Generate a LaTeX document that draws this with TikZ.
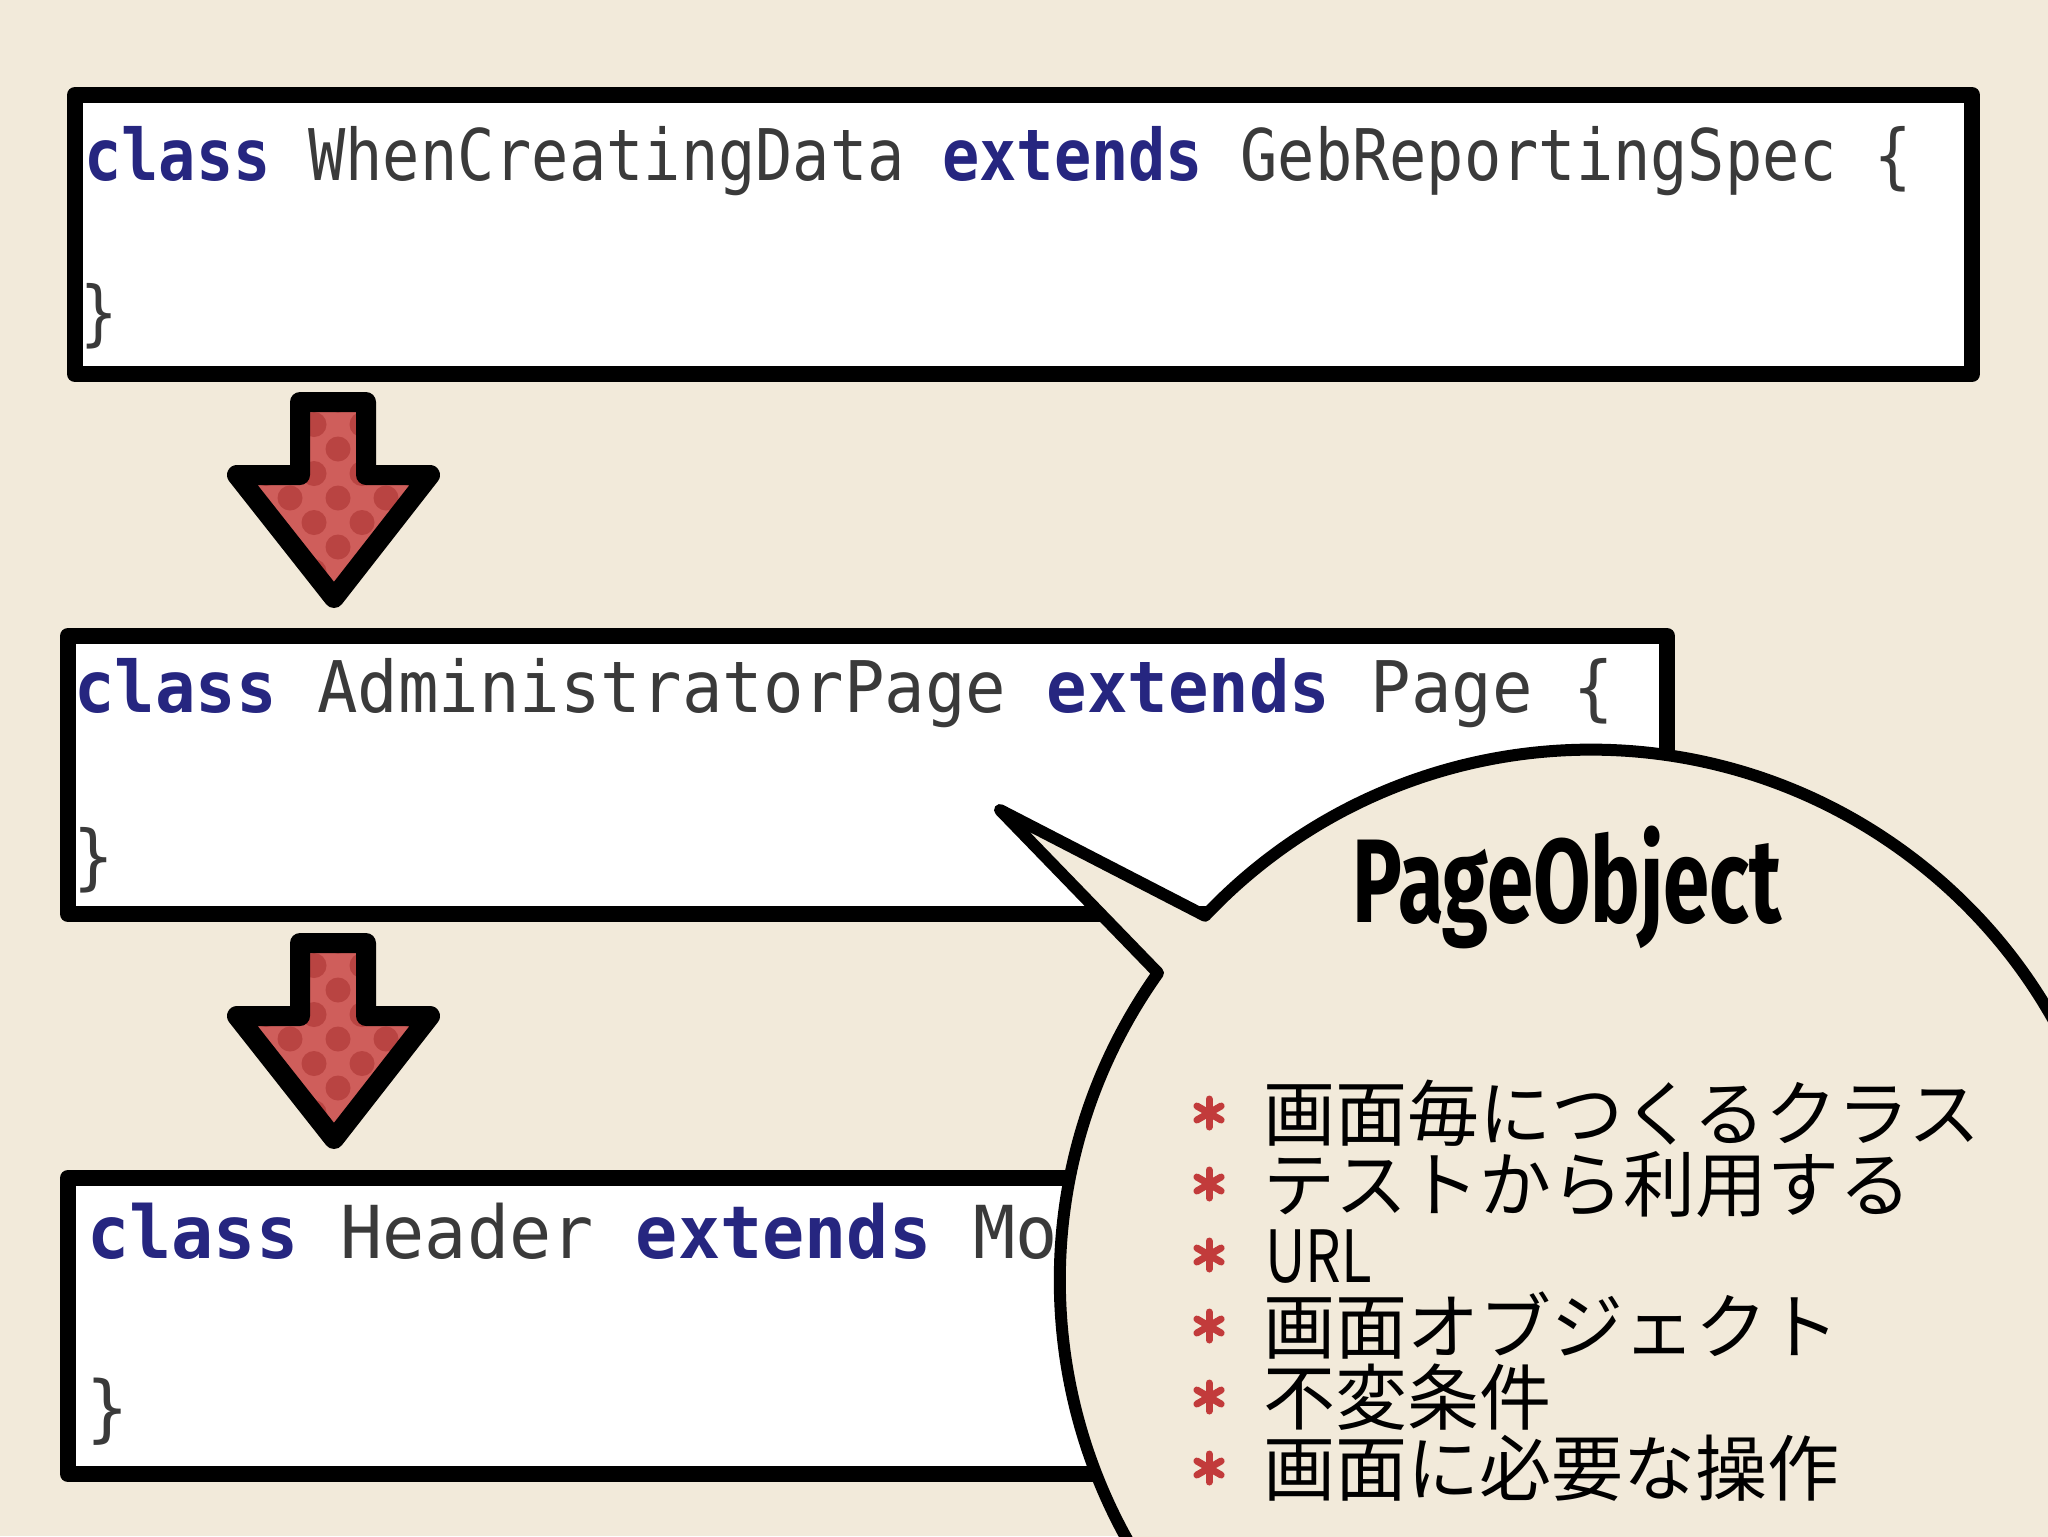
\documentclass[tikz,border=0pt]{standalone}
\usepackage{fontspec}
\usepackage{graphicx}
\setmainfont{DejaVu Sans}
\newfontfamily\codeA[FakeStretch=0.87]{DejaVu Sans Mono}
\newfontfamily\codeB[FakeStretch=0.945]{DejaVu Sans Mono}
\newfontfamily\codeC[FakeStretch=0.96]{DejaVu Sans Mono}
\newfontfamily\titlefont[FakeStretch=0.7]{Fira Sans}
\newfontfamily\jpfont{Noto Sans CJK JP}
\definecolor{bg}{HTML}{F2EADA}
\definecolor{kwblue}{HTML}{262680}
\definecolor{codegray}{HTML}{3A3A3A}
\definecolor{arrowred}{HTML}{CF5E5B}
\definecolor{dotred}{HTML}{B94442}
\definecolor{bulletred}{HTML}{C23B3B}
\newcommand\kw[1]{{\bfseries\color{kwblue}#1}}
\tikzset{
  codebox/.style={draw=black, fill=white, line width=8pt, line join=round},
  arrowline/.style={draw=black, line width=10pt, line join=round},
  bubble/.style={draw=black, fill=bg, line width=6pt, line join=round},
  codetxt/.style={anchor=base west, inner sep=0pt, text=codegray},
  jptxt/.style={anchor=base west, inner sep=0pt, text=black, font=\jpfont\fontsize{36pt}{36pt}\selectfont},
  bulletmark/.style={draw=bulletred, line width=3.5pt, line cap=round},
}
\begin{document}
\begin{tikzpicture}[x=0.5pt, y=-0.5pt]
\clip (0,0) rectangle (2048,1536);
\fill[bg] (0,0) rectangle (2048,1536);

% code boxes
\draw[codebox] (75,95) rectangle (1972,374);
\draw[codebox] (68,636) rectangle (1667,914);
\draw[codebox] (68,1178) rectangle (1400,1474);

\node[codetxt, font=\codeA\fontsize{35.6pt}{40pt}\selectfont] (c1) at (84,180)
  {\kw{class} WhenCreatingData \kw{extends} GebReportingSpec \{};
\node[codetxt, font=\codeA\fontsize{35.6pt}{40pt}\selectfont] (e1) at (80,337) {\}};

\node[codetxt, font=\codeB\fontsize{35.6pt}{40pt}\selectfont] (c2) at (74,712)
  {\kw{class} AdministratorPage \kw{extends} Page \{};
\node[codetxt, font=\codeB\fontsize{35.6pt}{40pt}\selectfont] (e2) at (73,881) {\}};

\node[codetxt, font=\codeC\fontsize{36.5pt}{40pt}\selectfont] (c3) at (87,1258)
  {\kw{class} Header \kw{extends} Mo};
\node[codetxt, font=\codeC\fontsize{36.5pt}{40pt}\selectfont] (e3) at (86,1433) {\}};

% block arrows
\foreach \dy in {0,541} {
  \begin{scope}[shift={(0,\dy)}]
    \begin{scope}
      \clip (300,402) -- (366,402) -- (366,475) -- (430,475) -- (334,598) -- (237,475) -- (300,475) -- cycle;
      \fill[arrowred] (200,380) rectangle (470,620);
      \foreach \j in {-5,...,5} {
        \foreach \i in {-4,...,4} {
          \fill[dotred] ({338+48*\i+24*mod(abs(\j),2)},{498+24.5*\j}) circle (12.5);
        }
      }
    \end{scope}
    \draw[arrowline] (300,402) -- (366,402) -- (366,475) -- (430,475) -- (334,598) -- (237,475) -- (300,475) -- cycle;
  \end{scope}
}

% speech bubble
\coordinate (tip) at (1000,810);
\draw[bubble] (tip) -- (1158,973) arc[start angle=215.4, end angle=-136.6, radius=531] -- cycle;

\node[anchor=base west, inner sep=0pt, font=\titlefont\bfseries\fontsize{59.5pt}{60pt}\selectfont] (title) at (1352,922) {PageObject};

\foreach \y in {1113,1184,1255,1326,1397,1468} {
  \draw[bulletmark] (1209,\y) +(90:14) -- +(270:14);
  \draw[bulletmark] (1209,\y) +(30:14) -- +(210:14);
  \draw[bulletmark] (1209,\y) +(150:14) -- +(330:14);
}

\node[jptxt] (l1) at (1263,1140) {画面毎につくるクラス};
\node[jptxt] (l2) at (1263,1211) {テストから利用する};
\node[jptxt] (l3) at (1265,1282) {\scalebox{0.78}[1]{URL}};
\node[jptxt] (l4) at (1263,1353) {画面オブジェクト};
\node[jptxt] (l5) at (1263,1424) {不変条件};
\node[jptxt] (l6) at (1263,1495) {画面に必要な操作};
\end{tikzpicture}
\end{document}
